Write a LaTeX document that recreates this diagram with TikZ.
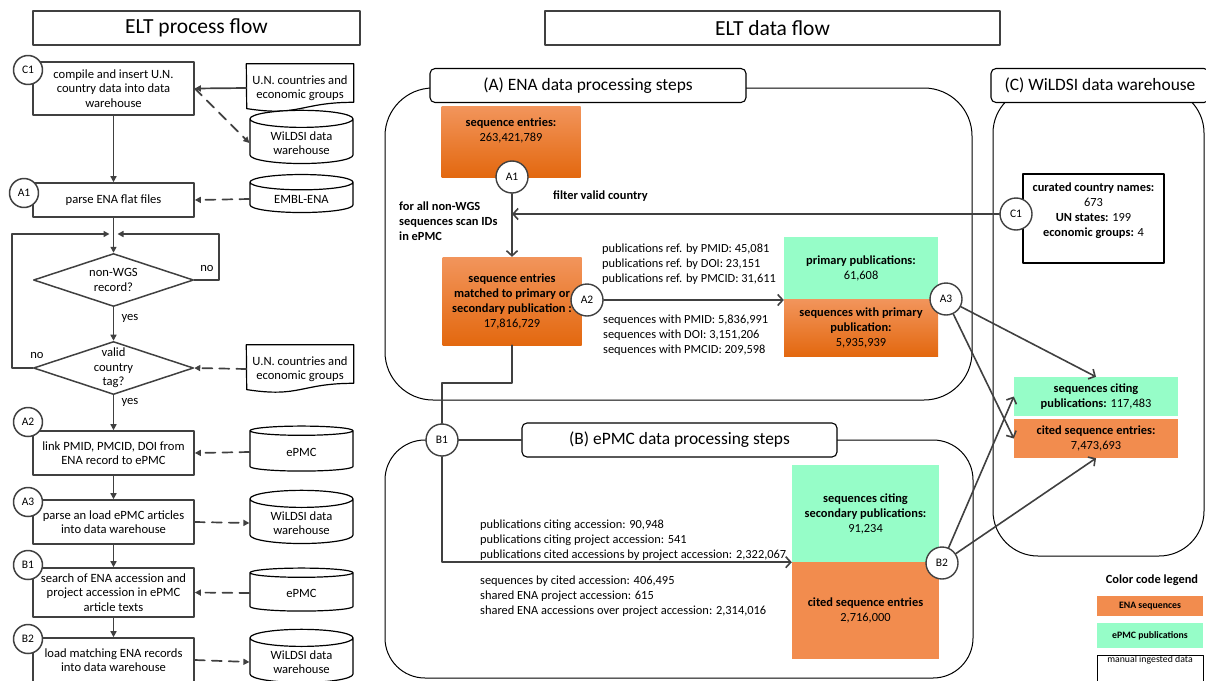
\documentclass[tikz,border=0pt]{standalone}
\usepackage{fontspec}
\setmainfont{Carlito}
\usetikzlibrary{shapes.geometric,arrows.meta}
\definecolor{enaorange}{HTML}{F28C4E}
\definecolor{enatop}{HTML}{F2955C}
\definecolor{enabottom}{HTML}{E3680F}
\definecolor{pmcgreen}{HTML}{96FDC8}
\definecolor{flowgray}{HTML}{404040}

\begin{document}
\begin{tikzpicture}[x=1pt,y=-1pt,line cap=round,line join=round,
  headbox/.style={draw=flowgray,line width=1.1pt,minimum height=34pt,font=\fontsize{21.5}{24}\selectfont},
  procbox/.style={draw=flowgray,line width=1.6pt,fill=white,minimum width=161pt,inner sep=1pt,align=center,font=\fontsize{12.6}{14.5}\selectfont},
  stepdot/.style={circle,draw=flowgray,line width=1.5pt,fill=white,minimum size=29pt,inner sep=0pt,font=\fontsize{11.5}{12}\selectfont},
  decide/.style={diamond,draw=flowgray,line width=1.5pt,aspect=3,inner sep=0pt,minimum width=160pt,minimum height=53pt,align=center,font=\fontsize{12.6}{14.5}\selectfont},
  dbase/.style={cylinder,shape border rotate=90,aspect=0.25,draw=black,line width=1.2pt,fill=white,minimum width=103pt,align=center,font=\fontsize{12.6}{14.5}\selectfont},
  docnode/.style={minimum width=107pt,minimum height=48pt,inner sep=0pt,align=center,font=\fontsize{12.6}{14.5}\selectfont},
  doclines/.style={draw=black,line width=1.2pt},
  answer/.style={font=\fontsize{12.6}{14.5}\selectfont},
  flowarr/.style={draw=flowgray,line width=1.7pt,-{Triangle[length=6pt,width=6pt]}},
  feedarr/.style={flowarr,dash pattern=on 10pt off 7pt},
  regionframe/.style={draw=black,line width=1pt,rounded corners=#1},
  secthead/.style={draw=black,line width=1.1pt,fill=white,rounded corners=5pt,minimum height=34pt,font=\fontsize{17.4}{20}\selectfont},
  enagrad/.style={top color=enatop,bottom color=enabottom,draw=none,inner sep=2pt,align=center,font=\fontsize{12.4}{15}\selectfont},
  enaflat/.style={fill=enaorange,draw=none,inner sep=2pt,align=center,font=\fontsize{12.4}{15}\selectfont},
  pmcbox/.style={fill=pmcgreen,draw=none,inner sep=2pt,align=center,font=\fontsize{12.4}{15}\selectfont},
  countbox/.style={draw=black,line width=1.2pt,fill=white,inner sep=2pt,align=center,font=\fontsize{12.4}{15}\selectfont},
  tally/.style={anchor=west,inner sep=0pt,align=left,font=\fontsize{12.4}{15}\selectfont},
  datadot/.style={circle,draw=flowgray,line width=1.4pt,fill=white,minimum size=32pt,inner sep=0pt,font=\fontsize{11.5}{12}\selectfont},
  dataarr/.style={draw=flowgray,line width=1.6pt,-{Straight Barb[length=5pt,width=11pt]}},
  dataline/.style={draw=flowgray,line width=1.6pt},
  legendbox/.style={minimum width=106pt,inner sep=0pt,font=\bfseries\fontsize{9.8}{11}\selectfont}]
  \useasboundingbox (0,0) rectangle (1206,680);

  % process flow
  \node[headbox,minimum width=327pt] (proctitle) at (196.5,28) {ELT process flow};
  \node[procbox,minimum height=53pt] (c1box) at (113.5,88.5) {compile and insert U.N.\\country data into data\\warehouse};
  \node[procbox,minimum height=34pt] (a1box) at (113.5,200) {parse ENA flat files};
  \node[decide] (nonwgs) at (113.5,280) {non-WGS\\record?};
  \node[decide] (validtag) at (113.5,368) {valid\\country\\tag?};
  \node[procbox,minimum height=44pt] (a2box) at (113.5,453) {link PMID, PMCID, DOI from\\ENA record to ePMC};
  \node[procbox,minimum height=44pt] (a3box) at (113.5,522) {parse an load ePMC articles\\into data warehouse};
  \node[procbox,minimum height=49pt] (b1box) at (113.5,592.5) {search of ENA accession and\\project accession in ePMC\\article texts};
  \node[procbox,minimum height=44pt] (b2box) at (113.5,660) {load matching ENA records\\into data warehouse};

  \node[stepdot] (c1left) at (28,70) {C1};
  \node[stepdot] (a1left) at (24,193) {A1};
  \node[stepdot] (a2left) at (28,422) {A2};
  \node[stepdot] (a3left) at (28,502) {A3};
  \node[stepdot] (b1left) at (28,565) {B1};
  \node[stepdot] (b2left) at (28,639) {B2};

  \node[docnode] (unA) at (300,88) {U.N. countries and\\economic groups};
  \draw[doclines] (unA.north west) -- (unA.north east) -- ++(0,38.5)
    .. controls +(-53.5,0) and +(53.5,8.3) .. ++(-107,6.3) -- cycle;
  \node[docnode] (unB) at (300,369) {U.N. countries and\\economic groups};
  \draw[doclines] (unB.north west) -- (unB.north east) -- ++(0,38.5)
    .. controls +(-53.5,0) and +(53.5,8.3) .. ++(-107,6.3) -- cycle;
  \node[dbase,minimum height=50pt] (dwA) at (301.5,143) {WiLDSI data\\warehouse};
  \node[dbase,minimum height=38pt] (embl) at (301.5,199) {EMBL-ENA};
  \node[dbase,minimum height=45pt] (pmcA) at (301.5,452) {ePMC};
  \node[dbase,minimum height=45pt] (dwB) at (301.5,523) {WiLDSI data\\warehouse};
  \node[dbase,minimum height=43pt] (pmcB) at (301.5,593) {ePMC};
  \node[dbase,minimum height=50pt] (dwC) at (301.5,662) {WiLDSI data\\warehouse};

  \node[answer] (noright) at (207,268) {no};
  \node[answer] (noleft) at (37,355) {no};
  \node[answer] (yesupper) at (130,318) {yes};
  \node[answer] (yeslower) at (130,402) {yes};

  \coordinate (merge) at (113.5,234);
  \coordinate (loopright) at (219,234);
  \coordinate (loopleft) at (12,234);

  \draw[flowarr] (unA.west) -- (c1box.east);
  \draw[feedarr] (c1box.east) -- (dwA.west);
  \draw[flowarr] (c1box.south) -- (a1box.north);
  \draw[feedarr] (embl.west) -- (a1box.east);
  \draw[flowarr] (a1box.south) -- (nonwgs.north);
  \draw[flowarr] (nonwgs.east) -| (loopright) -- ([xshift=4pt]merge);
  \draw[flowarr] (nonwgs.south) -- (validtag.north);
  \draw[flowarr] (validtag.west) -| (loopleft) -- ([xshift=-4pt]merge);
  \draw[feedarr] (unB.west) -- (validtag.east);
  \draw[flowarr] (validtag.south) -- (a2box.north);
  \draw[feedarr] (pmcA.west) -- (a2box.east);
  \draw[flowarr] (a2box.south) -- (a3box.north);
  \draw[feedarr] (a3box.east) -- (dwB.west);
  \draw[flowarr] (a3box.south) -- (b1box.north);
  \draw[feedarr] (pmcB.west) -- (b1box.east);
  \draw[flowarr] (b1box.south) -- (b2box.north);
  \draw[feedarr] (b2box.east) -- (dwC.west);

  % data flow
  \node[headbox,minimum width=455pt] (datatitle) at (772.5,28) {ELT data flow};
  \draw[regionframe=48pt] (385,88) rectangle (972,400);
  \draw[regionframe=40pt] (385,440) rectangle (973,678);
  \draw[regionframe=45pt] (993,88) rectangle (1204,556);
  \node[secthead,minimum width=316pt] (headA) at (588,85.5) {(A) ENA data processing steps};
  \node[secthead,minimum width=315pt] (headB) at (679.5,440) {(B) ePMC data processing steps};
  \node[secthead,minimum width=218pt] (headC) at (1100,85.5) {(C) WiLDSI data warehouse};

  \node[enagrad,minimum width=139pt,minimum height=71pt] (seqall) at (511,141.5) {\textbf{sequence entries:}\\263,421,789\\[9pt]\mbox{}};
  \node[enagrad,minimum width=139pt,minimum height=88pt] (matched) at (512,301) {\textbf{sequence entries}\\\textbf{matched to primary or}\\\textbf{secondary publication :}\\17,816,729};
  \node[pmcbox,minimum width=154pt,minimum height=62pt] (primpub) at (861,268) {\textbf{primary publications:}\\61,608};
  \node[enagrad,minimum width=154pt,minimum height=57pt] (seqprim) at (861,327.5) {\textbf{sequences with primary}\\\textbf{publication:}\\5,935,939};
  \node[tally] (nonwgsnote) at (399,221) {\textbf{for all non-WGS}\\\textbf{sequences scan IDs}\\\textbf{in ePMC}};
  \node[tally] (filternote) at (553,196) {\textbf{filter valid country}};
  \node[tally] (pubrefs) at (602,264) {publications ref. by PMID: 45,081\\publications ref. by DOI: 23,151\\publications ref. by PMCID: 31,611};
  \node[tally] (seqrefs) at (603,335) {sequences with PMID: 5,836,991\\sequences with DOI: 3,151,206\\sequences with PMCID: 209,598};

  \node[countbox,minimum width=141pt,minimum height=89pt] (countries) at (1093.5,218.5) {\textbf{curated country names:}\\673\\\textbf{UN states:} 199\\\textbf{economic groups:} 4\\[2pt]\mbox{}};
  \node[pmcbox,minimum width=164pt,minimum height=39pt] (citepub) at (1096,396.5) {\textbf{sequences citing}\\\textbf{publications:} 117,483};
  \node[enaflat,minimum width=164pt,minimum height=39pt] (citedseq) at (1096,438.5) {\textbf{cited sequence entries:}\\7,473,693};

  \node[pmcbox,minimum width=147pt,minimum height=97pt] (secpub) at (865.5,513.5) {\textbf{sequences citing}\\\textbf{secondary publications:}\\91,234};
  \node[enaflat,minimum width=147pt,minimum height=97pt] (citedB) at (865.5,610.5) {\textbf{cited sequence entries}\\2,716,000};
  \node[tally] (citepubs) at (480,540) {publications citing accession: 90,948\\publications citing project accession: 541\\publications cited accessions by project accession: 2,322,067};
  \node[tally] (citeseqs) at (480,596) {sequences by cited accession: 406,495\\shared ENA project accession: 615\\shared ENA accessions over project accession: 2,314,016};

  \node[datadot] (a1dot) at (512,177) {A1};
  \node[datadot] (a2dot) at (587,300) {A2};
  \node[datadot] (a3dot) at (946,299) {A3};
  \node[datadot] (c1dot) at (1016,214) {C1};
  \node[datadot] (b1dot) at (442,440) {B1};
  \node[datadot] (b2dot) at (942,563) {B2};

  \draw[dataarr] (a1dot.south) -- (matched.north);
  \draw[dataarr] (c1dot.west) -- (c1dot.west -| a1dot.south);
  \draw[dataarr] (a2dot.east) -- (a2dot.east -| primpub.west);
  \draw[dataline] (matched.south) -- ++(0,38) -| (b1dot.north);
  \draw[dataline] (b1dot.east) -- (headB.west);
  \draw[dataarr] (b1dot.south) |- (secpub.south west);
  \draw[dataarr] (a3dot) -- (citepub.north);
  \draw[dataarr] (a3dot) -- (citedseq.west);
  \draw[dataarr] (b2dot) -- (citepub.west);
  \draw[dataarr] (b2dot) -- (citedseq.south);

  % legend
  \node[font=\bfseries\fontsize{12.4}{15}\selectfont] (legendhead) at (1152,580) {Color code legend};
  \node[legendbox,fill=enaorange,minimum height=20pt] (legena) at (1150,606) {ENA sequences};
  \node[legendbox,fill=pmcgreen,minimum height=25pt] (legpmc) at (1150,635.5) {ePMC publications};
  \node[legendbox,draw=black,line width=0.8pt,anchor=north,text depth=22pt,font=\fontsize{9.8}{11}\selectfont] (legman) at (1150,655) {manual ingested data};
\end{tikzpicture}
\end{document}
